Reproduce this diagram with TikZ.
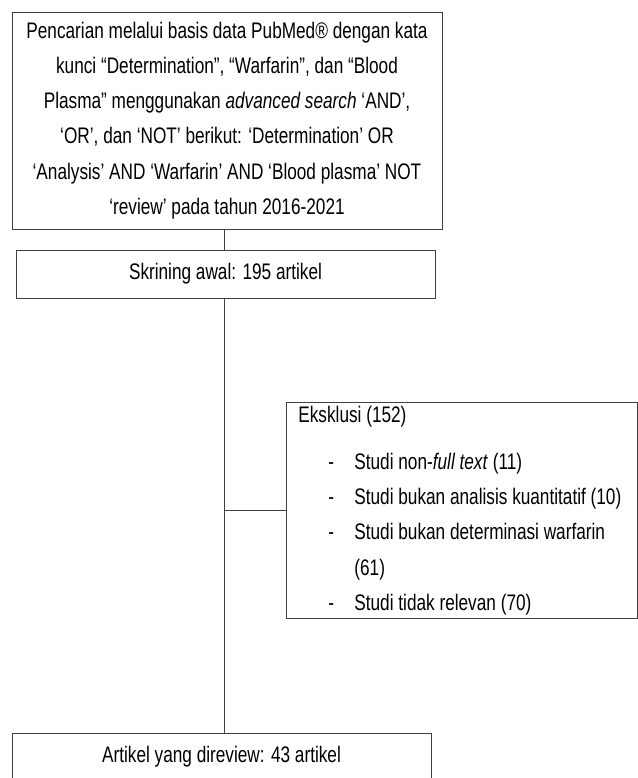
\documentclass[tikz,border=0pt]{standalone}
\usepackage{fontspec}
\setmainfont{Liberation Sans}[FakeStretch=0.765]
\usetikzlibrary{positioning}

\begin{document}
\begin{tikzpicture}[x=1pt, y=-1pt,
    box/.style={draw=black!75, line width=0.8pt, inner sep=0pt,
      font=\fontsize{22.5}{35.3}\selectfont},
    link/.style={draw=black!75, line width=0.8pt}]
  \useasboundingbox (0,0) rectangle (637,778);
  % boxes
  \node[box, minimum width=430pt, minimum height=217pt, align=center] (search) at (227,120.5)
    {Pencarian melalui basis data PubMed® dengan kata\\
     kunci “Determination”, “Warfarin”, dan “Blood\\
     Plasma” menggunakan \textit{advanced search} ‘AND’,\\
     ‘OR’, dan ‘NOT’ berikut: ‘Determination’ OR\\
     ‘Analysis’ AND ‘Warfarin’ AND ‘Blood plasma’ NOT\\
     ‘review’ pada tahun 2016-2021};
  \node[box, minimum width=419pt, minimum height=48pt] (screen) at (225.5,274)
    {Skrining awal: 195 artikel};
  \node[box, anchor=north west, align=left, inner xsep=12pt,
    minimum width=351pt, minimum height=216pt] (excl) at (286,402)
    {\makebox[327pt][l]{Eksklusi (152)}\\[11.7pt]
     \hspace*{30pt}\makebox[26pt][l]{-}Studi non-\textit{full text} (11)\\
     \hspace*{30pt}\makebox[26pt][l]{-}Studi bukan analisis kuantitatif (10)\\
     \hspace*{30pt}\makebox[26pt][l]{-}Studi bukan determinasi warfarin\\
     \hspace*{56pt}(61)\\
     \hspace*{30pt}\makebox[26pt][l]{-}Studi tidak relevan (70)};
  \node[box, minimum width=419pt, minimum height=48pt] (final) at (221.5,757)
    {Artikel yang direview: 43 artikel};
  % connectors
  \coordinate (spine) at (224,0);
  \draw[link] (search.south -| spine) -- (screen.north -| spine);
  \draw[link] (screen.south -| spine) -- (final.north -| spine);
  \draw[link] (excl.west -| spine) -- (excl.west);
\end{tikzpicture}
\end{document}
